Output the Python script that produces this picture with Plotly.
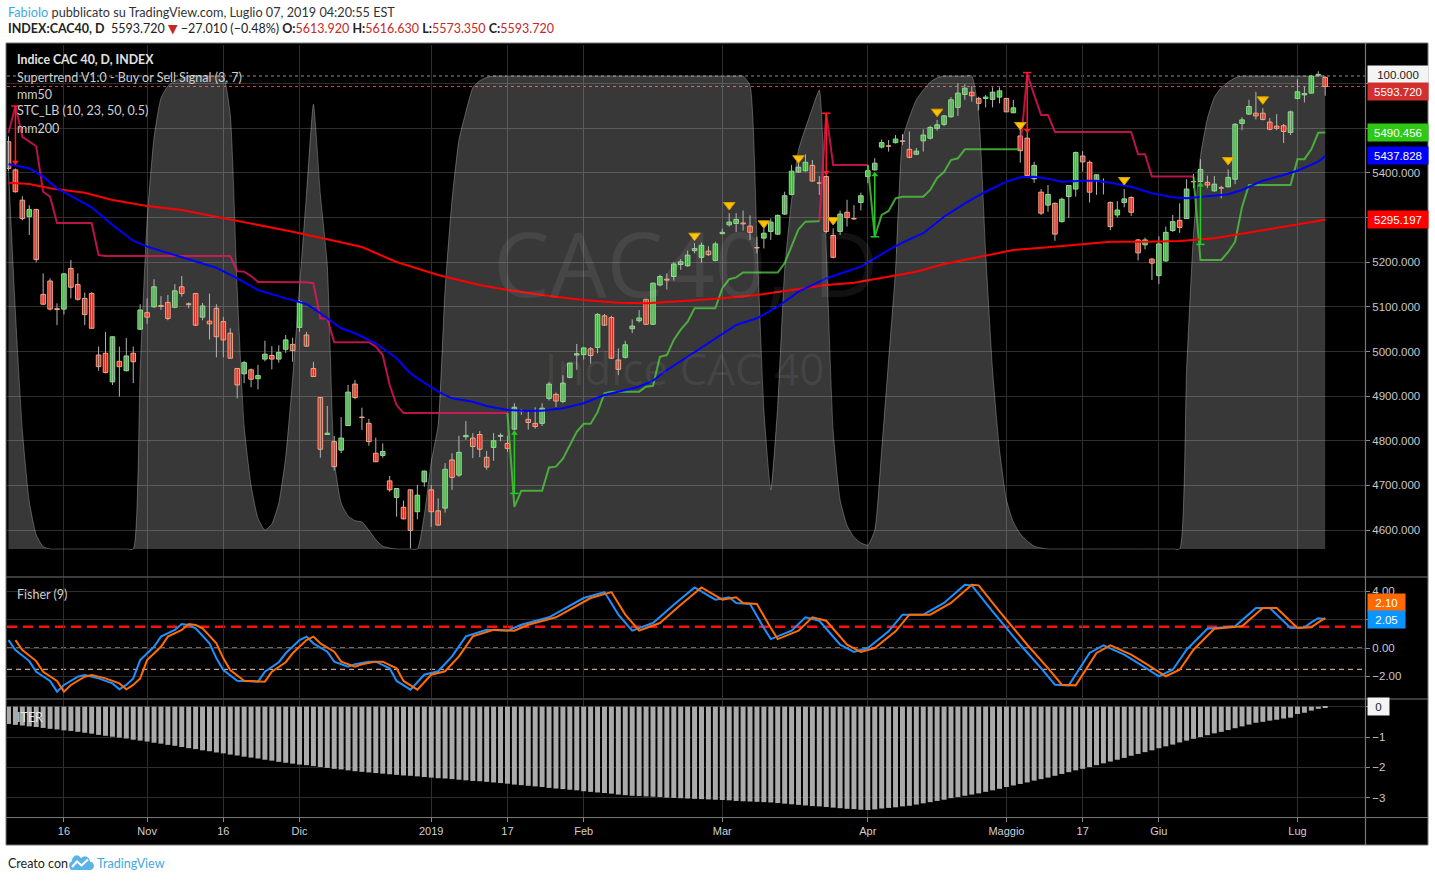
import plotly.graph_objects as go

# ------------------------------------------------------------------ data
# daily bars of INDEX:CAC40 from 2018-10-04 to 2019-07-05 (bar index 0..190)
tick_idx = [8, 20, 31, 42, 61, 72, 83, 103, 124, 144, 155, 166, 186]
tick_text = ["16", "Nov", "16", "Dic", "2019", "17", "Feb", "Mar", "Apr", "Maggio", "17", "Giu", "Lug"]

opens = [5470,5407,5339,5302,5318,5128,5158,5096,5095,5186,
5150,5119,5130,4992,4996,4932,4978,4957,4996,5050,
5087,5100,5103,5110,5099,5145,5107,5130,5077,5068,
5097,5067,5041,4962,4950,4959,4939,4983,4991,4983,
5005,5016,5054,5037,4962,4897,4814,4798,4779,4834,
4927,4853,4839,4772,4767,4710,4673,4651,4690,4641,
4708,4690,4643,4649,4757,4723,4809,4806,4814,4763,
4785,4810,4794,4826,4868,4848,4839,4839,4895,4904,
4888,4942,4992,4993,5006,5009,5080,5076,4981,4987,
5051,5069,5117,5061,5149,5162,5168,5195,5192,5226,
5211,5225,5204,5264,5284,5287,5288,5281,5233,5254,
5269,5263,5308,5352,5402,5405,5417,5378,5392,5260,
5269,5312,5298,5334,5392,5407,5458,5461,5468,5472,
5453,5442,5472,5478,5500,5509,5526,5547,5576,5581,
5567,5567,5565,5570,5567,5535,5483,5478,5387,5357,
5328,5332,5291,5347,5364,5438,5424,5384,5381,5334,
5306,5334,5345,5250,5239,5207,5170,5203,5271,5294,
5298,5381,5381,5379,5360,5367,5369,5386,5511,5532,
5534,5534,5514,5505,5506,5491,5567,5575,5579,5619,
5613.92]
highs = [5482,5410,5348,5328,5320,5175,5164,5108,5176,5205,
5175,5132,5133,5011,5044,5034,5011,5030,5011,5106,
5119,5162,5124,5127,5151,5169,5110,5131,5109,5130,
5106,5077,5052,4963,4979,4962,4970,5024,5012,5014,
5037,5031,5115,5044,4977,4897,4878,4811,4853,4925,
4936,4874,4849,4807,4794,4721,4694,4666,4691,4701,
4733,4701,4671,4750,4772,4811,4844,4817,4822,4777,
4817,4817,4811,4884,4871,4865,4875,4884,4932,4908,
4947,4974,5017,5010,5010,5086,5084,5080,5007,5024,
5072,5093,5118,5155,5172,5175,5201,5207,5226,5243,
5244,5236,5246,5275,5310,5310,5316,5305,5257,5276,
5298,5307,5358,5418,5425,5442,5429,5393,5403,5276,
5316,5340,5328,5356,5418,5433,5475,5474,5485,5487,
5493,5456,5498,5506,5519,5530,5570,5601,5599,5595,
5571,5575,5592,5592,5567,5564,5500,5496,5425,5364,
5373,5334,5345,5373,5448,5449,5428,5396,5388,5336,
5337,5364,5348,5252,5255,5210,5258,5280,5306,5332,
5386,5398,5431,5394,5393,5371,5408,5512,5525,5564,
5582,5545,5523,5532,5510,5540,5610,5593,5620,5628,
5616.63]
lows = [5405,5356,5294,5261,5200,5104,5092,5059,5083,5119,
5114,5059,5051,4957,4951,4925,4899,4955,4929,5048,
5062,5098,5093,5070,5097,5123,5097,5057,5070,5027,
4987,4987,4984,4895,4929,4920,4915,4978,4960,4975,
4997,4977,5044,5011,4943,4762,4813,4733,4772,4833,
4893,4824,4789,4752,4762,4686,4630,4624,4559,4624,
4697,4607,4610,4639,4690,4719,4802,4761,4763,4735,
4755,4799,4775,4823,4858,4825,4827,4833,4890,4876,
4884,4940,4959,4982,4973,4996,5058,4983,4947,4984,
5041,5065,5060,5060,5146,5139,5159,5183,5190,5220,
5199,5214,5202,5263,5280,5268,5271,5250,5220,5231,
5250,5261,5306,5350,5400,5403,5380,5351,5265,5209,
5261,5280,5295,5316,5377,5405,5455,5448,5466,5463,
5433,5440,5448,5475,5495,5505,5524,5528,5564,5560,
5540,5547,5547,5556,5537,5534,5423,5390,5378,5306,
5313,5248,5289,5299,5347,5403,5334,5351,5352,5272,
5300,5323,5304,5204,5229,5160,5151,5201,5268,5266,
5297,5366,5378,5366,5358,5343,5368,5375,5496,5530,
5520,5518,5496,5496,5467,5485,5565,5558,5578,5616,
5573.35]
closes = [5410,5358,5298,5318,5206,5106,5095,5094,5174,5144,
5117,5083,5052,4966,4953,5033,4966,4990,4977,5093,
5077,5145,5101,5074,5136,5130,5105,5059,5102,5062,
5033,5026,4985,4925,4975,4938,4946,4994,4983,4998,
5026,5002,5112,5012,4944,4781,4817,4742,4806,4909,
4897,4852,4798,4753,4776,4690,4693,4625,4599,4678,
4732,4641,4611,4736,4718,4774,4812,4787,4781,4741,
4800,4812,4783,4875,4866,4841,4832,4873,4927,4889,
4929,4974,4995,5008,4991,5083,5059,4985,4960,5015,
5057,5075,5061,5153,5168,5160,5196,5201,5216,5231,
5238,5217,5241,5267,5290,5296,5286,5267,5232,5265,
5290,5305,5349,5404,5413,5424,5382,5377,5269,5211,
5308,5300,5297,5349,5405,5422,5468,5460,5476,5471,
5435,5449,5485,5502,5508,5528,5564,5579,5590,5573,
5556,5570,5581,5584,5537,5546,5450,5394,5417,5310,
5352,5263,5341,5372,5446,5425,5357,5396,5380,5280,
5317,5342,5312,5221,5250,5198,5241,5267,5291,5278,
5364,5380,5408,5373,5375,5366,5390,5509,5519,5549,
5528,5520,5498,5500,5493,5537,5582,5578,5617,5621,
5593.72]

# Supertrend (3, 7): value per bar and trend (1 = up/green, 0 = down/crimson)
st_val = [5490,5550,5481,5470,5460,5358,5347,5288,5288,5288,
5288,5288,5288,5216,5214,5214,5214,5214,5214,5214,
5214,5214,5214,5214,5214,5214,5214,5214,5214,5214,
5214,5214,5214,5180,5179,5169,5156,5156,5156,5156,
5156,5156,5156,5155,5153,5074,5074,5021,5021,5021,
5021,5021,5021,5011,4992,4925,4880,4862,4862,4862,
4862,4862,4862,4862,4862,4862,4862,4862,4862,4862,
4862,4862,4862,4652,4688,4688,4688,4688,4740,4742,
4760,4791,4820,4838,4838,4864,4906,4910,4910,4910,
4910,4910,4921,4923,4988,4992,5026,5049,5067,5097,
5097,5097,5097,5142,5162,5166,5177,5177,5177,5177,
5177,5177,5198,5236,5274,5291,5292,5292,5534,5418,
5418,5418,5418,5418,5418,5257,5306,5315,5343,5347,
5347,5347,5347,5362,5389,5402,5429,5433,5453,5453,
5453,5453,5453,5453,5453,5453,5453,5622,5575,5530,
5530,5492,5492,5492,5492,5492,5492,5492,5492,5492,
5492,5492,5492,5442,5442,5392,5392,5392,5392,5392,
5392,5392,5205,5205,5205,5205,5223,5246,5324,5373,
5373,5373,5373,5373,5373,5373,5431,5431,5453,5490,
5490.456]
st_up = [0]*73 + [1]*45 + [0]*7 + [1]*22 + [0]*25 + [1]*19

# Supertrend buy/sell arrows
arrow_idx = [1, 73, 118, 125, 147, 172]
arrow_from = [5550, 4682, 5534, 5257, 5625, 5240]
arrow_to = [5424, 4817, 5401, 5396, 5495, 5373]
arrow_buy = [0, 1, 0, 1, 0, 1]

# STC signal triangles
sig_idx = [99, 104, 109, 114, 119, 134, 146, 161, 176, 181]
sig_price = [5259.5, 5328.3, 5287.3, 5433, 5294.7, 5537.4, 5507.6, 5384.3, 5429, 5565]

# moving averages (read at selected bars)
mm50_idx = [0,3,5,7,9,12,15,18,20,24,27,30,33,36,40,43,45,48,50,53,56,58,60,62,64,67,69,72,74,77,
            80,83,86,88,91,93,95,98,101,105,108,111,114,118,119,121,123,125,127,129,132,135,138,141,
            144,146,148,150,152,155,157,159,162,165,168,170,173,176,178,181,184,186,189,190]
mm50_val = [5419.5,5410.5,5391.7,5365.7,5348.5,5323,5283.5,5248.3,5235,5216.4,5201.2,5187.8,5164,5137.8,
            5119,5106.4,5085.6,5052,5040.8,5018.4,4984.8,4951,4930,4910,4895,4887.5,4877.9,4869,4867.3,
            4867.3,4872.7,4884,4902.5,4910,4921,4934.6,4958.6,4988.3,5018.4,5059.4,5074.4,5100.4,5134,
            5164,5169.2,5178.8,5190,5208.8,5227.5,5243.8,5265,5302,5332,5358,5380.5,5390.4,5391.7,5387.2,
            5380.5,5382.8,5382.8,5378.3,5369.3,5354.5,5345.5,5343.3,5348.5,5352.3,5362,5382.8,5395.5,
            5405,5425.3,5437.828]
mm200_idx = [0,3,6,11,15,20,25,30,35,41,46,51,56,62,68,72,78,83,88,92,98,103,108,113,118,122,127,131,
             135,140,145,150,155,159,164,169,174,179,183,190]
mm200_val = [5378.3,5375.4,5365.7,5355.9,5339.5,5326,5317,5302,5285.7,5268.5,5251.4,5234,5200.6,5171.4,
             5149,5138,5124.4,5115.4,5109.4,5108,5113.8,5119.2,5126.7,5137.8,5149,5154.2,5167.6,5178.8,
             5196,5212.4,5227.5,5233.5,5241,5246,5246,5247.6,5253.7,5266.2,5277.4,5295.197]

# STC_LB (10, 23, 50, 0.5), 0..100
stc_vals = [80,50,25,10,3,0.5,0,0,0,0,0,0,0,0,0,0,0,0,0,
38,69.5,87,95.3,97.9,99,99.5,100,100,100,100,100,100,
91.8,55,26,13.5,6.5,4,5.3,9.7,19.5,36,55.6,75,94,75,60,19,9.7,7,6,5.7,4,2,0.6,0.2,
0,0,0,0,
7.2,18.4,26.2,55,73.8,86.5,92.4,97.5,99,99.7,
100,100,100,100,100,100,100,100,100,100,100,100,100,100,100,100,100,100,100,100,
100,100,100,100,100,100,100,100,100,100,100,100,100,100,100,100,100,
98,65.3,29.4,12.5,30.4,59,73.8,84.4,89,93.2,97,63.4,25,10.4,5,2.5,1.3,0.8,
4,21,40,59,86.5,91.3,95,97,98.7,99.6,
100,100,100,100,100,
91.8,62.8,37.8,21,10.4,5.7,3.2,1.7,0.6,0.2,
0,0,0,0,0,0,0,0,0,0,0,0,0,0,0,0,0,0,0,0,
38,66.6,83,91,95.5,97.5,98.7,99.6,
100,100,100,100,100,100,100,100,100,100,100,100,100]

# Fisher (9) read at selected bars; trigger = fisher of the previous bar
fisher_idx = [0,1,3,4,6,7,8,10,11,13,15,16,17,18,19,21,22,24,25,26,27,29,30,31,33,34,36,37,39,40,
              42,43,44,46,47,49,50,52,53,55,56,58,60,62,64,66,69,72,74,78,80,83,86,88,90,93,96,99,
              102,104,105,107,109,110,113,115,117,120,122,124,127,129,132,135,138,139,142,143,146,
              149,151,153,154,156,158,161,163,166,168,170,173,177,180,182,185,187,188,189,190]
fisher_val = [0.56,-0.14,-0.92,-1.67,-2.32,-3.07,-2.6,-2.02,-1.9,-2.14,-2.49,-2.91,-2.6,-2.14,-0.85,
              0.09,0.8,1.27,1.69,1.62,1.39,0.33,-0.73,-1.55,-2.3,-2.32,-2.37,-1.67,-1.0,-0.37,0.56,0.8,
              0.33,-0.26,-0.96,-1.31,-1.15,-0.96,-0.96,-1.43,-2.32,-2.93,-1.88,-1.64,-0.59,0.82,1.29,
              1.22,1.64,2.16,2.7,3.52,3.94,2.35,1.22,1.76,3.05,4.27,3.4,3.57,3.17,3.1,1.41,0.63,1.22,
              2.16,1.92,0.23,-0.28,0.0,1.17,2.35,2.35,3.17,4.46,4.41,2.58,2.0,0.23,-1.41,-2.58,-2.63,
              -1.88,-0.35,0.19,-0.47,-1.06,-1.99,-1.53,-0.12,1.36,1.53,2.82,2.82,1.41,1.46,1.8,2.10,2.05]
fisher_levels = [1.5, 0.0, -1.5]

# ITER histogram, one value per bar
iter_vals = [-0.57,-0.60,-0.62,-0.65,-0.67,-0.70,-0.73,-0.75,-0.78,-0.80,
-0.83,-0.86,-0.89,-0.93,-0.96,-0.99,-1.02,-1.05,-1.09,-1.12,
-1.15,-1.19,-1.22,-1.26,-1.29,-1.33,-1.37,-1.40,-1.44,-1.47,
-1.51,-1.54,-1.58,-1.61,-1.65,-1.68,-1.71,-1.75,-1.78,-1.82,
-1.85,-1.88,-1.91,-1.93,-1.96,-1.99,-2.02,-2.05,-2.07,-2.10,
-2.13,-2.15,-2.17,-2.19,-2.21,-2.23,-2.25,-2.27,-2.28,-2.30,
-2.32,-2.34,-2.36,-2.37,-2.39,-2.41,-2.43,-2.45,-2.46,-2.48,
-2.50,-2.52,-2.54,-2.57,-2.59,-2.61,-2.63,-2.65,-2.68,-2.70,
-2.72,-2.74,-2.76,-2.79,-2.81,-2.83,-2.85,-2.87,-2.90,-2.92,
-2.94,-2.95,-2.96,-2.97,-2.98,-3.00,-3.01,-3.02,-3.03,-3.04,
-3.05,-3.06,-3.07,-3.08,-3.09,-3.11,-3.12,-3.13,-3.14,-3.15,
-3.16,-3.18,-3.20,-3.22,-3.24,-3.26,-3.28,-3.29,-3.31,-3.33,
-3.35,-3.37,-3.38,-3.40,-3.41,-3.39,-3.36,-3.34,-3.32,-3.29,
-3.27,-3.23,-3.19,-3.15,-3.11,-3.07,-3.02,-2.98,-2.94,-2.90,
-2.86,-2.81,-2.76,-2.71,-2.65,-2.60,-2.55,-2.50,-2.44,-2.39,
-2.34,-2.28,-2.22,-2.16,-2.10,-2.05,-1.99,-1.93,-1.87,-1.81,
-1.75,-1.69,-1.62,-1.56,-1.50,-1.44,-1.37,-1.31,-1.25,-1.18,
-1.12,-1.06,-1.00,-0.94,-0.88,-0.83,-0.77,-0.71,-0.65,-0.59,
-0.53,-0.50,-0.46,-0.43,-0.39,-0.36,-0.24,-0.20,-0.13,-0.07,
-0.04]

price_ticks = [4600, 4700, 4800, 4900, 5000, 5100, 5200, 5300, 5400, 5500, 5600]
price_hidden = [5500, 5600]
last_values = {"stc": "100.000", "close": "5593.720", "st": "5490.456", "mm50": "5437.828",
               "mm200": "5295.197", "trigger": "2.10", "fisher": "2.05", "iter": "0"}

# ------------------------------------------------------------------ geometry helpers
N = len(closes)
idx = list(range(N))
PL, PR, PT, PB = 7, 1365, 45, 817


def hx(px):
    return (px - PL) / (PR - PL)


def hy(py):
    return (PB - py) / (PB - PT)


GRID = "#2e2e2e"
SEP = "#767676"
TXT = "#c9c9c9"
AXF = "Liberation Sans, Arial, sans-serif"
UIF = "Lato, 'DejaVu Sans', sans-serif"

fig = go.Figure()

# STC area (base axis of the main panel, drawn under everything)
fig.add_trace(go.Scatter(x=idx, y=stc_vals, xaxis="x", yaxis="y", mode="lines",
                         line=dict(color="rgba(255,255,255,0.28)", width=1, shape="spline", smoothing=0.5),
                         fill="tozeroy", fillcolor="rgba(255,255,255,0.22)", hoverinfo="skip"))

# candles: wicks then bodies
wx, wy = [], []
for i in idx:
    wx += [i, i, None]
    wy += [lows[i], highs[i], None]
fig.add_trace(go.Scatter(x=wx, y=wy, xaxis="x", yaxis="y4", mode="lines",
                         line=dict(color="#b4b4b4", width=1), hoverinfo="skip"))
up = [c >= o for o, c in zip(opens, closes)]
fig.add_trace(go.Bar(x=idx, y=[max(abs(c - o), 0.8) for o, c in zip(opens, closes)],
                     base=[min(o, c) for o, c in zip(opens, closes)], xaxis="x", yaxis="y4",
                     width=0.66,
                     marker=dict(color=["#3fb43f" if u else "#e0291e" for u in up],
                                 line=dict(color=["#8ee28e" if u else "#ffa27a" for u in up], width=1)),
                     hoverinfo="skip"))

# Supertrend line, coloured by trend
seg = {1: ([], []), 0: ([], [])}
start = 0
for i in range(1, N + 1):
    if i == N or st_up[i] != st_up[start]:
        a = max(start - 1, 0)
        xs, ys = seg[st_up[start]]
        xs += list(range(a, i)) + [None]
        ys += st_val[a:i] + [None]
        start = i
fig.add_trace(go.Scatter(x=seg[0][0], y=seg[0][1], xaxis="x", yaxis="y4", mode="lines",
                         line=dict(color="rgba(235,22,92,0.8)", width=2), hoverinfo="skip"))
fig.add_trace(go.Scatter(x=seg[1][0], y=seg[1][1], xaxis="x", yaxis="y4", mode="lines",
                         line=dict(color="rgba(80,200,64,0.8)", width=2), hoverinfo="skip"))

# moving averages
fig.add_trace(go.Scatter(x=mm200_idx, y=mm200_val, xaxis="x", yaxis="y4", mode="lines",
                         line=dict(color="#ff0000", width=2), hoverinfo="skip"))
fig.add_trace(go.Scatter(x=mm50_idx, y=mm50_val, xaxis="x", yaxis="y4", mode="lines",
                         line=dict(color="#0000ff", width=2), hoverinfo="skip"))

# buy / sell arrows
for buy, col, head in ((0, "#ff1a1a", "triangle-down"), (1, "#22cc22", "triangle-up")):
    ax_, ay_, cx, cy, hx_, hy_ = [], [], [], [], [], []
    for i, f, t, b in zip(arrow_idx, arrow_from, arrow_to, arrow_buy):
        if b != buy:
            continue
        ax_ += [i, i, None]
        ay_ += [f, t, None]
        cx.append(i); cy.append(f); hx_.append(i); hy_.append(t)
    fig.add_trace(go.Scatter(x=ax_, y=ay_, xaxis="x", yaxis="y4", mode="lines",
                             line=dict(color=col, width=1.5), hoverinfo="skip"))
    fig.add_trace(go.Scatter(x=cx, y=cy, xaxis="x", yaxis="y4", mode="markers",
                             marker=dict(symbol="line-ew", size=6, line=dict(color=col, width=1.5)),
                             hoverinfo="skip"))
    fig.add_trace(go.Scatter(x=hx_, y=hy_, xaxis="x", yaxis="y4", mode="markers",
                             marker=dict(symbol=head, size=6, color=col), hoverinfo="skip"))

# STC signal triangles
fig.add_trace(go.Scatter(x=sig_idx, y=sig_price, xaxis="x", yaxis="y4", mode="markers",
                         marker=dict(symbol="triangle-down", size=10, color="#ffc200",
                                     line=dict(color="#d49a00", width=1)), hoverinfo="skip"))

# Fisher panel
fig.add_trace(go.Scatter(x=fisher_idx, y=fisher_val, xaxis="x2", yaxis="y2", mode="lines",
                         line=dict(color="#1e90ff", width=2), hoverinfo="skip"))
trig_x = [i + 1 for i in fisher_idx if i + 1 < N]
fig.add_trace(go.Scatter(x=trig_x, y=fisher_val[:len(trig_x)], xaxis="x2", yaxis="y2", mode="lines",
                         line=dict(color="#ff6d00", width=2), hoverinfo="skip"))

# ITER panel
fig.add_trace(go.Bar(x=idx, y=iter_vals, xaxis="x3", yaxis="y3", width=0.72,
                     marker=dict(color="#aaaaaa", line=dict(width=0)), hoverinfo="skip"))

# ------------------------------------------------------------------ layout
xr = [(PL - 8.5) / 6.93, (PR - 8.5) / 6.93]
xaxis_common = dict(range=xr, tickvals=tick_idx, showgrid=True, gridcolor=GRID, gridwidth=1,
                    zeroline=False, showline=False)

shapes = []
# black chart frame behind everything
shapes.append(dict(type="rect", xref="paper", yref="paper", x0=hx(6), x1=hx(1428), y0=hy(845), y1=hy(43),
                   fillcolor="black", line=dict(color=SEP, width=1), layer="below"))
# reference lines
shapes.append(dict(type="line", xref="paper", yref="y", x0=0, x1=1, y0=100, y1=100,
                   line=dict(color="#8c8c8c", width=1, dash="dot"), layer="below"))
shapes.append(dict(type="line", xref="paper", yref="y4", x0=0, x1=1, y0=closes[-1], y1=closes[-1],
                   line=dict(color="#e53935", width=1, dash="dot"), layer="below"))
shapes.append(dict(type="line", xref="paper", yref="y2", x0=0, x1=1, y0=fisher_levels[0], y1=fisher_levels[0],
                   line=dict(color="#ff1010", width=2.5, dash="10px,6px"), layer="below"))
for lv in fisher_levels[1:]:
    shapes.append(dict(type="line", xref="paper", yref="y2", x0=0, x1=1, y0=lv, y1=lv,
                       line=dict(color="#ffc9b3", width=1, dash="5px,4px"), layer="below"))
# panel separators and frame lines
for py in (577, 699, 817.5):
    shapes.append(dict(type="line", xref="paper", yref="paper", x0=hx(6), x1=hx(1428), y0=hy(py), y1=hy(py),
                       line=dict(color=SEP, width=1.2), layer="above"))
shapes.append(dict(type="line", xref="paper", yref="paper", x0=hx(1365.5), x1=hx(1365.5), y0=hy(845), y1=hy(43),
                   line=dict(color=SEP, width=1.2), layer="above"))


# TradingView logo (cloud) in the footer
def pth(pts, close=True):
    s = "M " + " L ".join(f"{hx(x):.5f},{hy(y):.5f}" for x, y in pts)
    return s + (" Z" if close else "")


cloud = [(71, 870), (91, 870), (93.5, 868), (94, 865), (92.5, 862.5), (90, 861.5), (89, 858.5), (86.5, 856.5),
         (83.5, 856.5), (81, 858), (78.5, 855.5), (75, 855.5), (72.5, 858), (72, 861), (69.5, 863), (69, 866.5)]
shapes.append(dict(type="path", xref="paper", yref="paper", path=pth(cloud),
                   fillcolor="#5ab4e6", line=dict(width=0), layer="above"))
shapes.append(dict(type="path", xref="paper", yref="paper",
                   path=pth([(72, 867), (77, 861.5), (81.5, 865.5), (88, 859.5)], close=False),
                   line=dict(color="white", width=2), layer="above"))

ann = []


def txt(text, px, py, size=12, color=TXT, family=UIF, xanchor="left", **kw):
    ann.append(dict(text=text, xref="paper", yref="paper", x=hx(px), y=hy(py), xanchor=xanchor,
                    yanchor="middle", showarrow=False, font=dict(size=size, color=color, family=family), **kw))


def box(text, py, bg, fg="white", w=56):
    ann.append(dict(text=text, xref="paper", yref="paper", x=hx(1367), y=hy(py), xanchor="left",
                    yanchor="middle", showarrow=False, bgcolor=bg, borderpad=2, width=w, height=13,
                    align="center", font=dict(size=11.5, color=fg, family=AXF)))


# header
txt('<span style="color:#3fa9e0">FabioIo</span> pubblicato su TradingView.com, Luglio 07, 2019 04:20:55 EST',
    6, 12, size=12.7, color="#333333")
red = "#c62828"
hdr = (f'<b>INDEX:CAC40, D</b>  {closes[-1]:.3f} <span style="color:{red}">▼</span> −27.010 (−0.48%) '
       f'<b>O:</b><span style="color:{red}">{opens[-1]:.3f}</span> '
       f'<b>H:</b><span style="color:{red}">{highs[-1]:.3f}</span> '
       f'<b>L:</b><span style="color:{red}">{lows[-1]:.3f}</span> '
       f'<b>C:</b><span style="color:{red}">{closes[-1]:.3f}</span>')
txt(hdr, 6, 29, size=12.5, color="#222222")
# legend of the main panel
txt("<b>Indice CAC 40, D, INDEX</b>", 15, 60, size=12.3, color="#e2e2e2")
txt("Supertrend V1.0 - Buy or Sell Signal (3, 7)", 15, 77, size=12.5, color="#cfcfcf")
txt("mm50", 15, 94, size=12.5, color="#cfcfcf")
txt("STC_LB (10, 23, 50, 0.5)", 15, 111, size=12.5, color="#cfcfcf")
txt("mm200", 15, 128, size=12.5, color="#cfcfcf")
txt("Fisher (9)", 15, 594, size=12.5, color="#cfcfcf")
txt("ITER", 15, 717, size=12.5, color="#e8e8e8")
# watermark
txt("CAC40, D", 685, 262, size=90, color="rgba(255,255,255,0.07)", family="Open Sans, sans-serif",
    xanchor="center")
txt("Indice CAC 40", 685, 368, size=44, color="rgba(255,255,255,0.07)", family="Open Sans, sans-serif",
    xanchor="center")
# footer
txt("Creato con", 6, 863, size=12.5, color="#222222")
txt("TradingView", 95, 863, size=12.5, color="#3fa9e0")
# last-value boxes on the right scale
box(last_values["stc"], 74, "#f4f4f4", fg="#222222")
box(last_values["close"], 91, "#d32f2f")
box(last_values["st"], 133, "#2fc914")
box(last_values["mm50"], 156, "#0000ff")
box(last_values["mm200"], 219.5, "#ff0000")
box(last_values["trigger"], 602, "#ff6a00", w=33)
box(last_values["fisher"], 619, "#0a94ff", w=33)
box(last_values["iter"], 706.5, "#f4f4f4", fg="#222222", w=17)

tickfont = dict(size=11.5, color=TXT, family=AXF)
yr_common = dict(side="right", zeroline=False, showline=False, ticks="outside", ticklen=4,
                 tickcolor="#8a8a8a", tickfont=tickfont, showgrid=True, gridcolor=GRID)

fig.update_layout(
    width=1435, height=881,
    margin=dict(l=PL, r=1435 - PR, t=PT, b=881 - PB, pad=0, autoexpand=False),
    paper_bgcolor="white", plot_bgcolor="black",
    barmode="overlay", showlegend=False, hovermode=False,
    xaxis=dict(domain=[0, 1], anchor="y", showticklabels=False, ticks="", **xaxis_common),
    xaxis2=dict(domain=[0, 1], anchor="y2", matches="x", showticklabels=False, ticks="", **xaxis_common),
    xaxis3=dict(domain=[0, 1], anchor="y3", matches="x", ticktext=tick_text, ticks="outside", ticklen=4,
                tickcolor="#8a8a8a", tickfont=dict(size=11, color="#d0d0d0", family=AXF), **xaxis_common),
    yaxis=dict(domain=[hy(577), 1], anchor="x", range=[-5.92, 106.55], showgrid=False,
               showticklabels=False, zeroline=False, showline=False),
    yaxis4=dict(overlaying="y", anchor="x", range=[4494.7, 5686.8], tickvals=price_ticks,
                ticktext=["" if v in price_hidden else f"{v:.3f}" for v in price_ticks], **yr_common),
    yaxis2=dict(domain=[hy(698), hy(578)], anchor="x2", range=[-3.52, 4.93], tickvals=[4, 2, 0, -2],
                ticktext=["4.00", "", "0.00", "−2.00"], **yr_common),
    yaxis3=dict(domain=[0, hy(700)], anchor="x3", range=[-3.64, 0.221], tickvals=[0, -1, -2, -3],
                ticktext=["", "−1", "−2", "−3"], **yr_common),
    shapes=shapes, annotations=ann,
)

fig.write_html("out.html")
